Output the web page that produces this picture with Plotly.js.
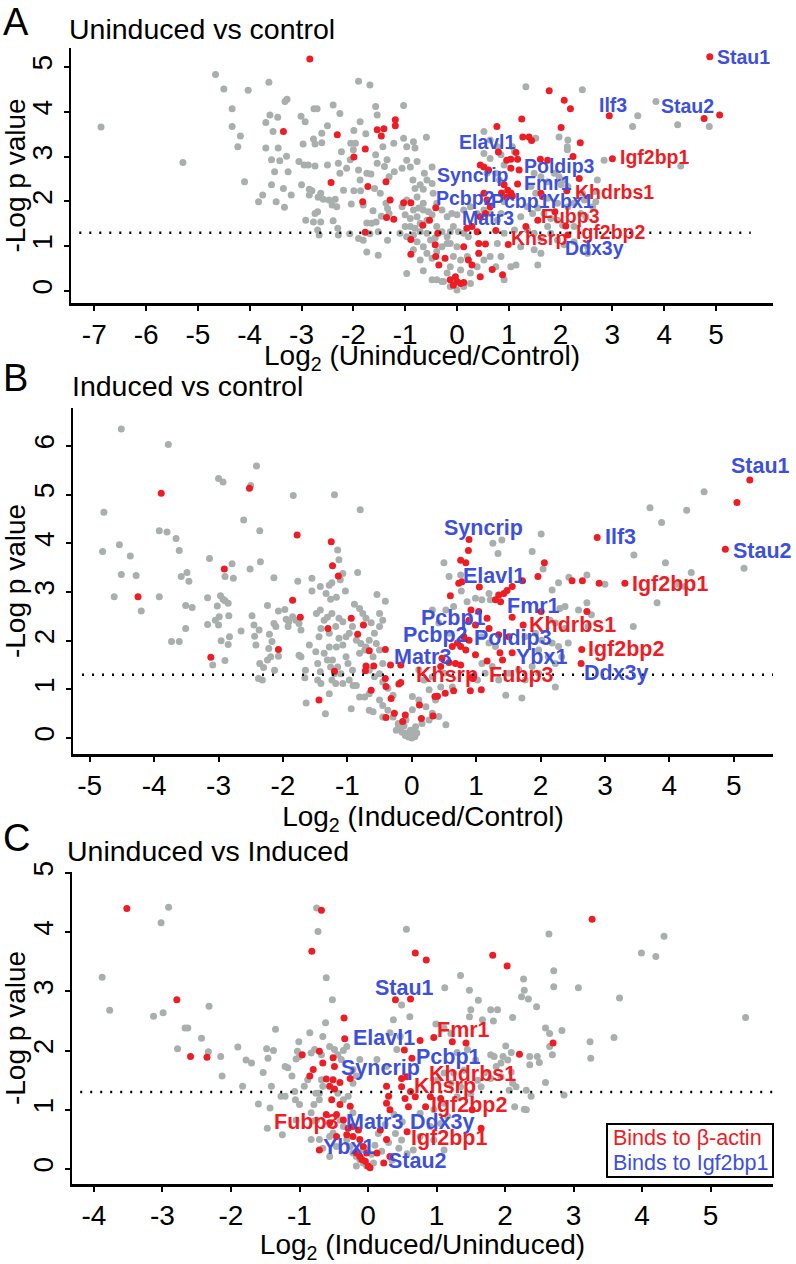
<!DOCTYPE html>
<html>
<head>
<meta charset="utf-8">
<script src="https://cdn.plot.ly/plotly-3.0.1.min.js"></script>
<style>
  html, body { margin: 0; padding: 0; background: #fff; }
  #chart { width: 796px; height: 1264px; }
</style>
</head>
<body>
<div id="chart"></div>
<script>
// ---- panel A: uninduced vs control ----
var aGrey = [
  [-6.87,3.66],[-5.29,2.87],[-4.66,4.83],[-4.50,4.51],[-4.03,4.48],[-3.63,4.66],[-4.34,4.07],[-4.34,3.67],
  [-4.18,3.46],[-4.23,3.22],[-4.10,2.44],[-3.28,4.28],[-3.32,4.23],[-3.61,3.93],[-3.46,3.88],[-3.69,3.76],
  [-3.55,3.56],[-3.69,3.19],[-3.45,3.19],[-3.58,2.93],[-3.42,2.91],[-3.52,2.66],[-3.26,2.66],[-3.29,3.01],
  [-3.58,2.37],[-3.35,2.29],[-3.75,2.14],[-3.83,1.99],[-3.49,1.99],[-3.33,1.87],[-3.20,2.14],[-3.01,3.90],
  [-2.93,3.78],[-2.76,4.07],[-2.70,4.07],[-2.39,4.15],[-2.50,3.69],[-2.61,3.52],[-2.77,3.39],[-2.97,3.28],
  [-2.74,3.28],[-2.61,3.31],[-3.05,2.89],[-2.95,2.81],[-2.87,2.81],[-2.74,2.79],[-2.50,2.81],[-3.00,2.37],
  [-2.85,2.27],[-2.80,2.24],[-2.85,2.14],[-2.68,2.09],[-2.63,2.18],[-2.58,2.05],[-2.47,2.03],[-2.35,2.05],
  [-2.41,1.92],[-2.32,1.88],[-2.69,1.77],[-2.74,1.73],[-2.77,1.54],[-2.63,1.54],[-2.92,1.58],[-2.39,1.57],
  [-2.30,1.40],[-2.69,1.36],[-2.66,1.25],[-2.29,1.25],[-2.26,3.96],[-2.23,3.11],[-2.29,2.85],[-2.13,2.74],
  [-2.26,2.63],[-2.19,2.25],[-2.06,2.93],[-2.00,3.15],[-2.05,3.30],[-1.96,3.30],[-1.90,4.68],[-1.68,4.60],
  [-1.87,3.78],[-1.99,3.58],[-1.76,3.51],[-1.57,4.12],[-1.54,3.93],[-1.90,2.70],[-1.74,2.63],[-1.87,2.48],
  [-1.66,2.61],[-1.57,3.04],[-1.54,2.85],[-1.43,3.22],[-1.35,2.93],[-1.40,2.78],[-1.99,2.24],[-1.86,2.24],
  [-2.04,1.94],[-1.81,1.92],[-1.59,2.29],[-1.48,2.18],[-1.62,1.79],[-1.46,1.67],[-1.74,1.52],[-1.65,1.51],
  [-1.56,1.54],[-1.52,1.32],[-1.68,1.28],[-1.90,1.17],[-1.81,1.13],[-1.74,0.87],[-1.52,0.80],[-2.07,1.28],
  [-1.37,1.96],[-1.34,1.84],[-1.31,1.73],[-1.31,2.55],[-1.34,1.13],[-1.22,3.30],
  [-1.03,4.14],[-1.03,3.41],[-0.97,3.22],[-0.84,3.33],[-0.81,3.19],[-0.59,3.43],[-0.97,2.92],[-0.90,2.77],
  [-1.06,2.74],[-1.21,2.66],[-0.77,2.89],[-0.63,2.63],[-0.48,2.77],[-0.85,2.48],[-0.81,2.29],[-0.71,2.37],
  [-0.58,2.48],[-0.65,2.27],[-0.48,2.40],[-0.46,2.18],[-0.77,2.10],[-0.97,2.03],[-0.65,1.96],[-1.06,1.88],
  [-0.84,1.81],[-0.74,1.85],[-0.65,1.81],[-0.55,1.77],[-1.00,1.70],[-0.90,1.62],[-0.77,1.66],[-0.71,1.51],
  [-0.58,1.58],[-0.48,1.70],[-1.00,1.44],[-0.90,1.44],[-0.81,1.40],[-1.10,1.29],[-0.97,1.21],[-0.84,1.25],
  [-0.71,1.32],[-0.58,1.29],[-0.51,1.14],[-0.77,1.10],[-0.65,0.99],[-0.84,0.92],[-0.58,0.84],[-0.71,0.69],
  [-0.48,0.73],[-0.39,0.88],[-0.29,0.99],[-0.19,1.06],[-0.97,0.39],[-0.65,0.45],[-0.48,0.25],[-0.29,0.21],
  [-0.42,1.19],[-0.39,1.44],[-0.29,1.32],[-0.19,1.21],[-0.13,1.32],[-0.07,1.44],[0.03,1.32],[0.13,1.29],
  [0.22,1.21],[-0.39,1.96],[-0.29,1.81],[-0.19,1.66],[-0.10,1.73],[0.00,1.70],[0.13,1.81],[0.26,1.88],
  [0.39,1.73],[0.52,1.81],[0.64,1.73],[-0.13,1.06],[0.00,0.99],[-0.07,0.77],[0.07,0.69],[0.20,0.77],
  [-0.13,0.54],[0.07,0.47],[0.26,0.40],[0.39,0.54],[0.52,0.69],[0.64,0.77],[-0.39,0.25],[-0.26,0.21],
  [-0.13,0.10],[0.00,0.02],[0.13,0.10],[0.26,0.17],[-0.19,0.40],[0.52,3.56],[0.64,3.37],[0.52,3.07],
  [0.64,2.96],[0.58,2.63],
  [1.33,4.56],[2.42,4.49],[3.84,4.23],[3.49,3.91],[3.39,3.67],[4.26,3.71],[4.87,3.67],[1.07,3.22],
  [1.11,3.11],[1.52,3.41],[1.97,3.44],[2.14,3.37],[2.13,3.22],[2.13,3.15],[2.84,2.92],[4.32,2.79],
  [2.71,2.48],[2.65,2.22],[2.68,1.99],[2.62,1.88],[2.42,2.18],[2.46,2.03],[1.88,2.63],[1.97,2.55],
  [2.07,2.48],[2.01,2.37],[2.14,2.33],[1.49,2.63],[1.62,2.55],[1.75,2.44],[1.43,2.33],[1.52,2.18],
  [1.75,2.07],[1.94,1.96],[2.14,1.88],[2.26,1.96],[2.39,1.73],[2.49,1.66],[1.36,1.88],[1.46,1.73],
  [1.56,1.85],[1.68,1.73],[1.81,1.62],[1.94,1.58],[2.04,1.47],[2.26,1.44],[1.75,1.44],[1.49,1.29],
  [1.36,1.36],[1.62,1.18],[1.81,1.29],[1.94,1.14],[2.07,1.03],[2.26,1.10],[2.52,0.99],[1.49,0.92],
  [1.62,0.84],[1.14,0.58],[1.56,0.58],[1.23,0.99],[1.11,1.36],[1.23,1.66],[2.52,0.84],[0.78,3.22],
  [0.85,3.04],[0.91,2.81],[0.75,2.63],[0.82,2.48],[0.91,1.99],[0.85,1.73],[0.78,1.58],[0.91,1.29],
  [0.78,1.06],[0.85,0.77],[0.75,0.54],[0.91,0.25],[1.04,0.54]
];
var aRed = [
  [-2.84,5.18],[-3.35,3.56],[-2.31,3.49],[-2.43,2.42],[-1.99,2.99],[-1.77,3.17],[-1.72,2.33],[-1.82,1.99],
  [-1.77,1.31],[-1.54,3.60],[-1.41,3.62],[-1.46,3.46],[-1.19,3.82],[-1.19,3.69],[-1.37,2.44],[-1.29,2.03],
  [-1.36,1.64],[-1.22,1.60],
  [0.45,2.81],[0.52,2.77],[0.61,2.70],[0.52,2.18],[0.58,2.03],[0.64,1.88],[0.55,1.73],[0.45,1.66],
  [0.29,1.44],[0.19,1.40],[0.39,1.32],[-0.41,1.86],[-0.53,1.58],[-0.66,1.47],[-0.89,1.15],[-0.89,0.82],
  [-0.42,1.03],[-0.37,1.29],[-0.41,0.77],[-0.35,0.58],[-0.23,0.73],[0.13,0.99],[0.22,0.69],[0.29,0.58],
  [0.42,1.06],[0.55,1.05],[0.42,0.84],[0.45,0.32],[0.68,0.48],[-0.13,0.25],[0.00,0.21],[-0.07,0.13],
  [0.07,0.17],[-0.03,0.32],[0.13,0.19],[-1.03,1.97],[-0.89,1.97],
  [4.88,5.23],[1.78,4.47],[2.07,4.26],[2.19,4.07],[1.25,3.84],[0.77,3.67],[2.01,3.65],[2.94,3.91],
  [4.77,3.85],[5.07,3.93],[1.27,3.44],[1.39,3.44],[1.44,3.36],[2.38,3.31],[0.80,3.10],[1.14,3.09],
  [1.17,2.94],[0.96,2.92],[1.04,2.94],[2.24,3.00],[1.75,2.92],[1.61,2.94],[3.00,2.95],[1.04,2.74],
  [1.20,2.70],[2.36,2.51],[0.91,2.37],[0.98,2.25],[1.04,2.19],[1.17,2.39],[2.12,2.24],[0.86,2.19],
  [0.96,2.09],[1.07,2.12],[1.65,2.11],[1.62,2.18],[1.89,1.77],[1.56,1.58],[1.33,1.44],[2.10,1.45],
  [2.14,1.25],[0.99,1.04],[0.75,1.35],[0.88,0.36]
];
var aLabels = ["Stau1","Ilf3","Stau2","Elavl1","Igf2bp1","Poldip3","Syncrip","Fmr1","Khdrbs1",
               "Pcbp2","Pcbp1","Ybx1","Fubp3","Matr3","Igf2bp2","Khsrp","Ddx3y"];
var aLabX = [4.98,3.02,4.44,0.58,3.10,1.97,0.30,1.75,2.23,0.17,1.23,2.20,2.19,0.60,2.25,1.59,2.65];
var aLabY = [5.23,4.15,4.13,3.33,2.98,2.80,2.59,2.40,2.22,2.08,2.01,2.01,1.67,1.62,1.32,1.18,0.97];
var aLabKind = ["b","b","b","b","r","b","b","b","r","b","b","b","r","b","r","r","b"];
var aLabAnchor = ["left","center","center","center","left","center","center","center","left",
                  "center","center","center","center","center","left","center","center"];
var aXTicks = [-7,-6,-5,-4,-3,-2,-1,0,1,2,3,4,5];
var aYTicks = [0,1,2,3,4,5];

// ---- panel B: induced vs control ----
var bGrey = [
  [-4.51,6.35],[-3.78,6.03],[-4.78,4.64],[-4.80,3.83],[-4.54,3.97],[-4.37,3.74],[-4.51,3.36],[-4.28,3.34],
  [-4.62,2.90],[-4.20,2.61],[-3.92,4.26],[-3.80,4.23],[-3.66,4.10],[-3.61,3.85],[-3.92,2.90],[-3.73,1.98],
  [-3.61,1.98],[-3.58,3.32],[-3.49,3.40],[-3.46,3.22],[-3.51,2.72],[-3.41,2.68],[-3.51,2.25],[-3.00,5.33],
  [-2.93,5.26],[-3.14,3.69],[-2.79,3.58],[-2.90,3.32],[-2.77,3.28],[-3.17,2.88],[-2.97,2.92],[-2.93,2.85],
  [-2.90,2.82],[-2.85,2.77],[-3.02,2.71],[-2.84,2.51],[-2.99,2.49],[-3.05,2.42],[-3.00,2.32],[-3.17,2.33],
  [-2.83,2.08],[-2.96,2.00],[-2.85,1.92],[-2.90,1.59],[-3.09,1.50],[-2.61,4.48],[-2.50,5.19],[-2.41,5.59],
  [-2.36,4.26],[-2.35,3.62],[-2.51,3.47],[-2.65,2.20],[-2.48,2.51],[-2.45,2.32],[-2.37,2.22],[-2.44,2.09],
  [-2.42,1.91],[-2.36,1.53],[-2.30,1.45],[-2.38,1.22],[-2.32,1.19],[-2.24,2.72],[-2.14,3.29],[-2.21,2.13],
  [-2.17,1.98],[-2.22,1.84],[-2.24,1.60],[-2.19,1.67],[-2.13,1.39],[-2.11,2.29],[-2.14,2.35],[-2.07,2.61],
  [-1.97,2.64],[-2.07,1.68],[-1.95,2.44],[-1.91,2.39],[-1.85,2.49],[-1.80,2.42],[-1.75,2.35],[-1.92,2.29],
  [-1.84,4.98],[-1.77,3.22],[-1.72,2.22],[-1.75,1.70],[-1.72,1.67],[-1.66,1.24],[-1.65,1.39],[-1.64,0.72],
  [-1.59,1.91],[-1.55,3.28],[-1.55,3.02],[-1.48,2.56],[-1.41,2.25],[-1.44,2.08],[-1.49,1.77],[-1.46,1.53],
  [-1.42,1.36],[-1.46,1.19],[-1.41,1.12],[-1.28,1.87],[-1.28,0.91],[-1.34,0.50],[-1.36,1.74],[-1.31,1.60],
  [-1.26,1.46],[-1.20,1.32],[-1.24,1.19],[-1.42,3.11],[-1.33,2.97],[-1.28,3.14],[-1.26,2.85],[-1.24,3.19],
  [-1.42,2.63],[-1.36,2.42],[-1.31,2.48],[-1.24,2.56],[-1.28,2.15],[-1.20,5.00],[-0.80,4.69],[-1.15,3.86],
  [-1.13,3.66],[-1.07,3.38],[-1.11,3.25],[-1.17,2.89],[-1.03,3.02],[-0.84,3.40],[-1.13,2.46],[-1.07,2.39],
  [-1.18,2.29],[-1.13,2.05],[-1.17,1.87],[-1.07,1.91],[-1.02,2.08],[-0.97,2.15],[-0.92,2.29],[-1.23,1.60],
  [-1.15,1.46],[-1.10,1.32],[-1.02,1.67],[-0.99,1.53],[-0.92,1.39],[-1.07,1.12],[-0.97,1.19],[-0.86,1.08],
  [-1.18,1.12],[-0.94,0.60],[-0.91,1.08],[-0.81,0.84],[-0.89,2.75],[-0.81,2.66],[-0.76,2.56],[-0.71,2.46],
  [-0.63,2.37],[-0.86,2.01],[-0.79,1.94],[-0.73,1.81],[-0.81,1.74],[-0.71,1.87],[-0.66,2.01],[-0.58,2.15],
  [-0.50,2.29],[-0.45,2.42],[-0.55,1.94],[-0.60,1.67],[-0.50,1.81],[-0.45,1.53],[-0.54,2.95],[-0.41,2.81],
  [-0.50,2.56],[-0.66,1.39],[-0.58,1.26],[-0.50,1.32],[-0.45,1.15],[-0.37,1.02],[-0.29,0.88],[-0.66,0.57],
  [-0.60,0.54],[-0.50,0.78],[-0.45,0.67],[-0.37,0.57],[-0.29,0.43],[-0.21,0.30],[-0.24,0.16],[-0.45,0.43],
  [-0.66,0.91],[-0.73,0.84],
  [4.54,5.06],[3.70,4.73],[4.27,4.68],[3.88,4.43],[3.45,3.76],[3.94,3.60],[4.34,3.40],[5.16,3.49],
  [4.24,3.11],[4.13,3.16],[3.81,2.78],[3.44,2.29],[3.00,3.16],[2.72,3.35],[2.44,3.30],[2.28,3.19],
  [2.18,3.04],[2.01,4.19],[1.87,3.83],[2.04,3.47],[1.34,3.79],[1.40,4.07],[1.26,4.00],[0.50,3.60],
  [0.58,3.32],[0.76,3.35],[0.77,3.02],[1.20,2.97],[1.22,2.84],[0.65,2.70],[0.86,2.80],[0.99,2.87],
  [1.09,2.84],[2.30,2.66],[2.38,2.70],[2.59,2.63],[2.72,2.78],[2.15,2.42],[2.23,2.36],[2.38,2.25],
  [2.43,1.95],[2.79,2.53],[2.74,2.29],[1.76,2.08],[1.92,2.15],[2.02,2.01],[2.18,1.95],[2.28,1.88],
  [1.97,1.81],[2.12,1.67],[2.23,1.53],[2.33,1.67],[2.23,1.05],[1.71,0.82],[1.46,0.88],[1.66,1.40],
  [1.87,1.47],[1.97,1.33],[1.76,1.19],[1.09,2.08],[1.20,1.95],[1.30,1.88],[1.09,1.53],[1.25,1.47],
  [1.14,1.33],[1.35,1.19],[1.51,1.33],[1.02,1.19],
  [0.11,1.40],[0.19,1.19],[0.27,0.99],[0.01,0.85],[0.11,0.78],[0.22,0.64],[0.32,0.51],[0.01,0.58],
  [-0.09,0.37],[-0.02,0.16],[0.06,0.23],[0.16,0.30],[0.27,0.37],[0.42,0.44],[0.53,0.27],[-0.09,0.10],
  [0.04,0.03],[-0.20,0.23],[0.37,0.78],[0.45,1.05],[0.32,1.26],[0.50,1.33],[0.63,1.05],[0.58,2.15],
  [0.42,2.36],[0.32,2.63],[0.53,2.63],[-0.15,0.12],[-0.10,0.05],[-0.05,0.02],[0.00,0.00],[0.05,0.03],
  [0.08,0.10],[-0.12,0.25],[0.02,0.12]
];
var bRed = [
  [-3.89,5.03],[-2.52,5.13],[-1.78,4.17],[-1.25,4.03],[-1.23,3.54],[-1.14,3.33],[-2.91,3.47],[-4.25,2.90],
  [-1.85,2.83],[-1.73,2.48],[-1.30,2.25],[-0.94,2.46],[-0.75,2.32],[-0.84,2.13],[-2.07,1.82],[-3.12,1.66],
  [-0.66,1.79],[-0.41,1.82],[-0.71,1.48],[-0.72,1.38],[-0.59,1.48],[-0.33,1.50],[-1.20,1.37],[-0.41,1.22],
  [-0.40,1.06],[-0.63,0.98],[-0.32,0.81],[-1.44,0.78],[-0.27,0.51],[-0.40,0.42],[-0.20,1.11],
  [5.25,5.30],[5.05,4.84],[4.87,3.88],[2.88,4.12],[0.89,4.08],[0.88,3.85],[0.76,3.65],[0.84,3.60],
  [2.06,3.60],[0.60,2.92],[0.73,3.18],[0.78,3.21],[1.05,3.10],[1.72,3.23],[1.96,3.32],[2.49,3.23],
  [2.65,3.23],[2.91,3.18],[3.31,3.18],[1.56,3.11],[1.48,3.03],[1.43,2.97],[1.35,2.94],[1.30,2.84],
  [1.38,2.80],[0.92,2.63],[1.04,2.60],[0.89,2.42],[0.99,2.32],[1.17,2.46],[1.20,2.25],[1.56,2.48],
  [1.73,2.32],[2.72,2.60],[2.01,2.60],[0.81,2.08],[0.89,2.01],[0.71,1.95],[0.76,1.88],[0.84,1.81],
  [0.63,1.88],[0.99,1.71],[1.35,2.12],[1.51,2.08],[1.37,1.75],[1.56,1.75],[1.41,1.60],[1.17,1.58],
  [2.64,1.82],[2.63,1.53],[0.47,1.64],[0.58,1.55],[0.68,1.53],[0.76,1.50],[0.45,1.47],[0.94,1.26],
  [0.91,0.97],[0.65,0.97],[0.52,0.92],[0.40,0.86],[0.36,0.85],[1.08,0.99],[0.12,0.68],[0.33,0.45],
  [0.15,0.40],[-0.14,0.34],[-0.10,0.47],[-0.17,1.50],[-0.17,1.14]
];
var bLabels = ["Stau1","Ilf3","Stau2","Syncrip","Elavl1","Igf2bp1","Fmr1","Khdrbs1","Pcbp1",
               "Pcbp2","Poldip3","Igf2bp2","Matr3","Ybx1","Khsrp","Fubp3","Ddx3y"];
var bLabX = [5.42,2.97,4.95,1.12,1.27,3.39,1.89,2.49,0.65,0.37,1.58,2.70,0.17,2.02,0.55,1.71,3.18];
var bLabY = [5.59,4.12,3.84,4.32,3.32,3.16,2.71,2.32,2.46,2.12,2.05,1.82,1.66,1.67,1.29,1.29,1.34];
var bLabKind = ["b","b","b","b","b","r","b","r","b","b","b","r","b","b","r","r","b"];
var bLabAnchor = ["center","left","left","center","center","left","center","center","center",
                  "center","center","left","center","center","center","center","center"];
var bXTicks = [-5,-4,-3,-2,-1,0,1,2,3,4,5];
var bYTicks = [0,1,2,3,4,5,6];

// ---- panel C: uninduced vs induced ----
var cGrey = [
  [-2.91,4.42],[-3.02,4.16],[-3.88,3.24],[-3.77,2.68],[-3.13,2.58],[-2.99,2.64],[-2.32,2.75],[-2.67,2.38],
  [-2.63,2.38],[-2.43,2.21],[-2.33,1.98],[-2.78,2.03],[-2.15,1.90],[-1.90,2.06],[-2.13,1.57],[-1.78,1.84],
  [-1.70,1.79],[-1.83,1.40],[-1.60,1.10],[-1.53,1.63],[-1.48,2.03],[-1.38,2.00],[-1.46,1.87],[-1.43,1.03],
  [-1.47,0.69],[-1.41,1.40],[-1.35,2.36],[-1.25,0.58],[-1.27,1.23],[-1.21,1.23],[-1.21,1.73],[-1.17,1.71],
  [-1.11,1.57],[-1.03,1.99],[-1.01,2.15],[-1.05,1.86],[-1.00,1.90],[-1.07,1.31],[-1.06,1.17],[-1.00,1.09],
  [-1.05,0.83],[-0.93,1.40],[-0.88,1.51],[-0.85,2.30],[-0.83,1.96],[-0.78,2.02],[-0.79,1.09],[-0.83,0.95],
  [-0.76,1.28],[-0.71,1.28],[-0.79,0.81],[-0.75,0.83],[-0.75,4.41],[-0.73,4.01],[-0.61,3.23],[-0.52,2.86],
  [-0.62,2.47],[-0.66,2.24],[-0.56,2.07],[-0.68,1.93],[-0.68,1.51],[-0.66,1.40],[-0.71,1.17],[-0.83,0.50],
  [-0.71,0.50],[-0.66,0.35],[-0.56,0.55],[-0.49,2.02],[-0.44,1.93],[-0.36,2.00],[-0.31,2.07],[-0.39,1.85],
  [-0.44,1.28],[-0.36,1.17],[-0.29,1.23],[-0.22,0.95],[-0.41,0.83],[-0.36,0.72],[-0.31,0.50],[-0.26,0.38],
  [-0.22,0.27],[-0.17,0.21],[-0.12,0.16],[-0.07,0.10],[-0.17,0.05],[-0.02,0.05],[0.08,0.10],[-0.07,0.33],
  [-0.46,0.38],[-0.51,0.61],[-0.56,0.21],[-0.22,1.68],[-0.17,1.57],[-0.12,1.85],[-0.22,1.45],[0.37,2.52],
  [0.32,2.30],[0.42,2.02],[0.47,2.24],[0.13,1.85],[0.27,1.73],
  [0.10,0.40],[0.20,0.30],[0.30,0.45],[0.40,0.60],[0.45,0.35],[0.35,0.15],[0.15,0.60],[0.25,0.75],
  [0.05,0.25],[-0.05,0.35],[0.50,0.80],[0.38,0.92],
  [1.52,5.10],[0.56,4.05],[2.64,3.97],[4.32,3.93],[3.99,3.65],[4.20,3.59],[1.35,3.27],[2.71,3.35],
  [2.71,3.08],[3.07,3.06],[3.67,2.89],[2.27,3.21],[2.28,3.02],[2.24,2.91],[2.34,2.87],[2.46,2.74],
  [1.12,3.06],[1.48,3.02],[1.61,2.85],[1.50,2.69],[1.48,2.57],[1.79,2.69],[1.89,2.69],[1.67,2.52],
  [1.83,2.50],[2.11,2.56],[0.61,2.57],[0.49,2.77],[0.99,2.45],[1.11,2.38],[1.21,2.29],[2.59,2.38],
  [2.65,2.29],[2.83,2.34],[2.65,2.07],[2.69,1.93],[3.24,2.15],[3.59,2.22],[3.25,1.87],[5.51,2.56],
  [2.01,2.08],[2.09,1.97],[1.97,1.90],[1.84,1.90],[1.79,1.93],[1.94,1.79],[2.04,1.84],[1.87,1.73],
  [1.70,1.62],[1.60,1.50],[1.79,1.53],[1.94,1.56],[2.09,1.64],[2.16,1.39],[2.31,1.33],[2.38,1.23],
  [2.11,1.45],[2.06,1.33],[2.36,1.90],[2.47,1.90],[2.50,1.80],[2.36,1.76],[2.59,1.46],[2.86,1.25],
  [2.14,1.05],[2.28,1.01],[2.31,1.00],[1.30,1.97],[1.45,2.02],[1.57,1.84],[1.40,1.67],[1.25,1.62],
  [1.11,1.62],[1.01,1.50],[1.21,1.45],[1.35,1.39],[1.50,1.27],[1.65,1.39],[1.30,1.22],[1.11,1.11],
  [0.96,1.00],[0.76,0.94],[1.16,0.89],[1.06,0.77],[0.91,0.72],[0.76,0.55],[0.96,0.49],[1.11,0.32],
  [0.66,0.32],[0.57,0.26],[0.49,0.49]
];
var cRed = [
  [-3.52,4.40],[-2.79,2.86],[-2.59,1.90],[-2.35,1.89],[-0.68,4.37],[-0.82,3.68],[-0.35,2.55],[-0.34,2.20],
  [-0.71,1.99],[-0.66,1.79],[-0.96,1.93],[-0.80,1.68],[-0.85,1.57],[-0.61,1.52],[-0.51,1.51],[-0.41,1.46],
  [-0.49,1.35],[-0.56,1.40],[-0.51,1.88],[-0.49,1.73],[-0.26,1.53],[-0.53,1.17],[-0.41,1.09],[-0.26,1.06],
  [-0.46,0.92],[-0.36,0.83],[-0.29,0.69],[-0.22,0.72],[-0.14,0.66],[-0.31,0.58],[-0.22,0.55],[-0.46,0.55],
  [-0.56,0.78],[-0.61,0.92],[-0.12,0.50],[-0.07,0.38],[-0.02,0.27],[-0.17,0.27],[-0.12,0.21],[-0.04,0.13],
  [0.00,0.05],[0.03,0.02],[-0.09,0.16],[-0.71,0.32],[0.18,0.66],[0.27,0.50],[0.13,0.27],[0.23,0.10],
  [0.32,0.21],[0.40,2.86],[0.27,1.40],[0.30,1.23],[0.27,1.11],[0.32,1.00],
  [3.27,4.22],[0.69,3.65],[0.85,3.53],[1.82,3.61],[2.03,3.43],[0.62,2.87],[2.70,2.13],[2.21,1.94],
  [0.76,2.17],[0.96,2.22],[1.23,2.15],[1.43,2.13],[0.53,2.01],[0.64,1.87],[0.49,1.53],[0.57,1.56],
  [0.49,1.39],[0.62,1.31],[0.69,1.22],[0.91,1.22],[1.06,1.19],[0.54,1.19],[0.84,1.05],[1.52,1.00],
  [1.65,0.69],[0.57,0.63],[0.59,1.05]
];
var cLabels = ["Stau1","Fmr1","Elavl1","Pcbp1","Syncrip","Khdrbs1","Khsrp","Igf2bp2","Fubp3",
               "Matr3","Ddx3y","Igf2bp1","Ybx1","Stau2"];
var cLabX = [0.53,1.39,0.24,1.18,0.18,1.52,1.13,1.48,-0.90,0.10,1.08,1.18,-0.29,0.72];
var cLabY = [3.05,2.34,2.22,1.89,1.70,1.60,1.41,1.08,0.79,0.80,0.79,0.52,0.38,0.14];
var cLabKind = ["b","r","b","b","b","r","r","r","r","b","b","r","b","b"];
var cXTicks = [-4,-3,-2,-1,0,1,2,3,4,5];
var cYTicks = [0,1,2,3,4,5];

var legendText = ["Binds to \u03b2-actin", "Binds to Igf2bp1"];
var cutoff = 1.3;

// ---- drawing ----
var W = 796, H = 1264;
var GREY = "#a9afad", RED = "#ee1c24", BLUE = "#3d50dc";
var FONT = "Liberation Sans, Arial, sans-serif";
function px(p) { return p / W; }
function py(p) { return 1 - p / H; }

function pts(list, color, n) {
  return {
    x: list.map(function (d) { return d[0]; }),
    y: list.map(function (d) { return d[1]; }),
    xaxis: "x" + n, yaxis: "y" + n,
    type: "scatter", mode: "markers", hoverinfo: "skip",
    marker: { color: color, size: 7, line: { width: 0 } },
    showlegend: false
  };
}

var data = [
  pts(aGrey, GREY, ""), pts(aRed, RED, ""),
  pts(bGrey, GREY, "2"), pts(bRed, RED, "2"),
  pts(cGrey, GREY, "3"), pts(cRed, RED, "3")
];

function xax(dom, range, ticks, title, standoff) {
  return {
    domain: [px(dom[0]), px(dom[1])], range: range,
    tickmode: "array", tickvals: ticks, ticktext: ticks.map(String),
    showgrid: false, zeroline: false, showline: true, linecolor: "#000", linewidth: 2.5,
    ticks: "outside", ticklen: 5, tickwidth: 2, tickcolor: "#000",
    tickfont: { family: FONT, size: 28, color: "#000" },
    title: { text: title, font: { family: FONT, size: 28, color: "#000" }, standoff: standoff },
    fixedrange: true
  };
}
function yax(dom, range, ticks, anchor) {
  return {
    domain: [py(dom[1]), py(dom[0])], range: range, anchor: anchor,
    tickmode: "array", tickvals: ticks, ticktext: ticks.map(String), tickangle: -90,
    showgrid: false, zeroline: false, showline: true, linecolor: "#000", linewidth: 2.5,
    ticks: "outside", ticklen: 5, tickwidth: 2, tickcolor: "#000",
    tickfont: { family: FONT, size: 28, color: "#000" },
    title: { text: "-Log p value", font: { family: FONT, size: 28, color: "#000" }, standoff: 2 },
    fixedrange: true
  };
}

var annotations = [];
function addLabels(names, xs, ys, kinds, anchors, n, size) {
  names.forEach(function (t, i) {
    annotations.push({
      text: t, x: xs[i], y: ys[i], xref: "x" + n, yref: "y" + n,
      xanchor: anchors ? anchors[i] : "center", yanchor: "middle", showarrow: false,
      font: { family: FONT, size: size, color: kinds[i] === "r" ? RED : BLUE, weight: "bold" }
    });
  });
}
addLabels(aLabels, aLabX, aLabY, aLabKind, aLabAnchor, "", 19.5);
addLabels(bLabels, bLabX, bLabY, bLabKind, bLabAnchor, "2", 21.5);
addLabels(cLabels, cLabX, cLabY, cLabKind, null, "3", 21.5);

function paperText(t, x, y, size, anchor, color) {
  annotations.push({
    text: t, x: px(x), y: py(y), xref: "paper", yref: "paper",
    xanchor: anchor || "left", yanchor: "middle", showarrow: false,
    font: { family: FONT, size: size, color: color || "#000" }
  });
}
paperText("A", 1, 22, 38);
paperText("B", 1, 378, 38);
paperText("C", 1, 838, 38);
paperText("Uninduced vs control", 67, 29, 28.5);
paperText("Induced vs control", 70, 386, 28.5);
paperText("Uninduced vs Induced", 65, 851, 28.5);
// panel A x title placed directly: it sits a little closer to its tick labels
paperText("Log<sub>2</sub> (Uninduced/Control)", 422, 358, 28, "center");
paperText(legendText[0], 611, 1138, 21.5, "left", RED);
paperText(legendText[1], 611, 1163, 21.5, "left", BLUE);

var dotLine = { color: "#000", width: 2.5, dash: "2px,8px" };
var shapes = [
  { type: "line", xref: "x", yref: "y", x0: -7.29, x1: 5.67, y0: cutoff, y1: cutoff, line: dotLine },
  { type: "line", xref: "x2", yref: "y2", x0: -5.12, x1: 5.61, y0: cutoff, y1: cutoff, line: dotLine },
  { type: "line", xref: "x3", yref: "y3", x0: -4.20, x1: 5.91, y0: cutoff, y1: cutoff, line: dotLine },
  { type: "rect", xref: "paper", yref: "paper", x0: px(607), x1: px(773), y0: py(1177), y1: py(1124),
    line: { color: "#000", width: 2 }, fillcolor: "rgba(0,0,0,0)" }
];

var layout = {
  width: W, height: H,
  margin: { l: 0, r: 0, t: 0, b: 0 },
  paper_bgcolor: "#fff", plot_bgcolor: "#fff",
  font: { family: FONT, color: "#000" },
  showlegend: false,
  xaxis: Object.assign(xax([71, 773], [-7.45, 6.10], aXTicks, "", 1), { anchor: "y" }),
  yaxis: yax([48, 303], [-0.268, 5.424], aYTicks, "x"),
  xaxis2: Object.assign(xax([73, 773], [-5.26, 5.61], bXTicks, "Log<sub>2</sub> (Induced/Control)", 6), { anchor: "y2" }),
  yaxis2: yax([408, 754], [-0.329, 6.78], bYTicks, "x2"),
  xaxis3: Object.assign(xax([72, 773], [-4.32, 5.91], cXTicks, "Log<sub>2</sub> (Induced/Uninduced)", 3), { anchor: "y3" }),
  yaxis3: yax([872, 1184], [-0.253, 5.017], cYTicks, "x3"),
  annotations: annotations,
  shapes: shapes
};

Plotly.newPlot("chart", data, layout, { displayModeBar: false, staticPlot: true });
</script>
</body>
</html>
